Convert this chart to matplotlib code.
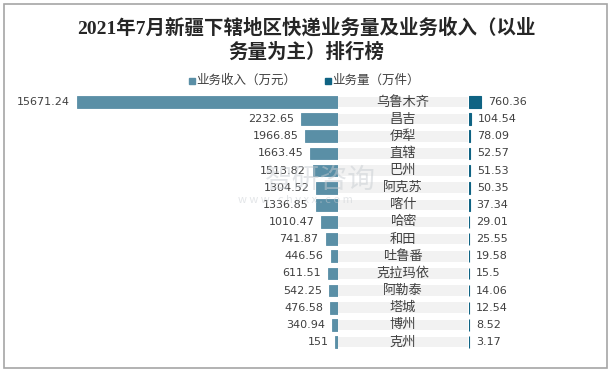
import matplotlib.pyplot as plt
from matplotlib.patches import Rectangle

plt.rcParams["font.family"] = ["Noto Sans CJK SC", "DejaVu Sans"]

CITIES = ["乌鲁木齐", "昌吉", "伊犁", "直辖", "巴州", "阿克苏", "喀什", "哈密",
          "和田", "吐鲁番", "克拉玛依", "阿勒泰", "塔城", "博州", "克州"]
REVENUE = [15671.24, 2232.65, 1966.85, 1663.45, 1513.82, 1304.52, 1336.85, 1010.47,
           741.87, 446.56, 611.51, 542.25, 476.58, 340.94, 151]
VOLUME = [760.36, 104.54, 78.09, 52.57, 51.53, 50.35, 37.34, 29.01,
          25.55, 19.58, 15.5, 14.06, 12.54, 8.52, 3.17]
REV_LABELS = ["15671.24", "2232.65", "1966.85", "1663.45", "1513.82", "1304.52", "1336.85",
              "1010.47", "741.87", "446.56", "611.51", "542.25", "476.58", "340.94", "151"]
VOL_LABELS = ["760.36", "104.54", "78.09", "52.57", "51.53", "50.35", "37.34", "29.01",
              "25.55", "19.58", "15.5", "14.06", "12.54", "8.52", "3.17"]

TITLE = "2021年7月新疆下辖地区快递业务量及业务收入（以业\n务量为主）排行榜"
REV_NAME = "业务收入（万元）"
VOL_NAME = "业务量（万件）"

REV_COLOR = "#5A8FA6"
VOL_COLOR = "#0F6383"
BAND_COLOR = "#F2F2F2"
TEXT_COLOR = "#404040"

W, H = 613, 374


def px_axes(fig, x0, y0, x1, y1):
    # pixel box (top-left origin) -> axes
    ax = fig.add_axes([x0 / W, 1 - y1 / H, (x1 - x0) / W, (y1 - y0) / H])
    ax.set_axis_off()
    return ax


fig = plt.figure(figsize=(W / 100, H / 100), dpi=100)
fig.patches.append(Rectangle((3.5 / W, 1 - 367.5 / H), 603.5 / W, 364 / H,
                             transform=fig.transFigure, fill=False,
                             edgecolor="#A6A6A6", linewidth=1.2))

n = len(CITIES)
rows = list(range(n))
step = 17.14
top, bottom = 102 - step / 2, 102 - step / 2 + step * n

# left: revenue, growing leftwards
ax_l = px_axes(fig, 77, top, 338, bottom)
ax_l.barh(rows, REVENUE, height=0.68, color=REV_COLOR, edgecolor=REV_COLOR, linewidth=0.6)
ax_l.set_xlim(max(REVENUE), 0)
ax_l.set_ylim(n - 0.5, -0.5)
for i, (v, lab) in enumerate(zip(REVENUE, REV_LABELS)):
    ax_l.annotate(lab, (v, i), xytext=(-5, 0), textcoords="offset points",
                  ha="right", va="center", fontsize=8, color=TEXT_COLOR,
                  family="DejaVu Sans", annotation_clip=False)

# middle: grey band with names
ax_m = px_axes(fig, 338, top, 468, bottom)
ax_m.barh(rows, [1] * n, height=0.62, color=BAND_COLOR)
ax_m.set_xlim(0, 1)
ax_m.set_ylim(n - 0.5, -0.5)
for i, name in enumerate(CITIES):
    ax_m.text(0.5, i, name, ha="center", va="center", fontsize=9.5, color=TEXT_COLOR)

# right: volume
ax_r = px_axes(fig, 469, top, 600, bottom)
ax_r.barh(rows, VOLUME, height=0.68, color=VOL_COLOR, edgecolor=VOL_COLOR, linewidth=0.8)
ax_r.set_xlim(0, 8300)
ax_r.set_ylim(n - 0.5, -0.5)
for i, (v, lab) in enumerate(zip(VOLUME, VOL_LABELS)):
    ax_r.annotate(lab, (v, i), xytext=(5, 0), textcoords="offset points",
                  ha="left", va="center", fontsize=8, color=TEXT_COLOR,
                  family="DejaVu Sans", annotation_clip=False)

# title and legend
fig.text(306 / W, 1 - 40 / H, TITLE, ha="center", va="center", fontsize=14,
         fontweight="bold", color="#262626", linespacing=1.3,
         family=["Liberation Serif", "Noto Sans CJK SC"])
fig.patches.append(Rectangle((189 / W, 1 - 83.5 / H), 6 / W, 6 / H,
                             transform=fig.transFigure, color=REV_COLOR))
fig.text(196 / W, 1 - 80.5 / H, REV_NAME, ha="left", va="center", fontsize=9, color=TEXT_COLOR)
fig.patches.append(Rectangle((325 / W, 1 - 83.5 / H), 6 / W, 6 / H,
                             transform=fig.transFigure, color=VOL_COLOR))
fig.text(332 / W, 1 - 80.5 / H, VOL_NAME, ha="left", va="center", fontsize=9, color=TEXT_COLOR)

# faint watermark
fig.text(265 / W, 1 - 180 / H, "智研咨询", ha="left", va="center", fontsize=20,
         color="#C8CDD2", alpha=0.5)
fig.text(238 / W, 1 - 200 / H, "w w w . c h y x x . c o m", ha="left", va="center",
         fontsize=8, color="#C8CDD2", alpha=0.5)

fig.savefig("out.png", dpi=100)
